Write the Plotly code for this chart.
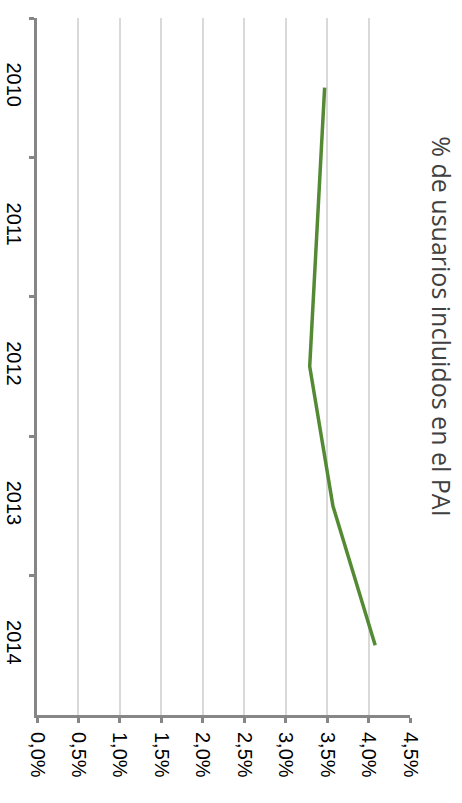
import plotly.graph_objects as go

# Share of users included in the PAI, by year
years = ["2010", "2011", "2012", "2013", "2014"]
share = [0.0347, 0.0338, 0.0329, 0.0357, 0.0408]
x_ticks = [0.0, 0.005, 0.01, 0.015, 0.02, 0.025, 0.03, 0.035, 0.04, 0.045]
title_text = "% de usuarios incluidos en el PAI"

AXIS_GREY = "#868686"
GRID_GREY = "#d9d9d9"
TICK_FONT = dict(family="Liberation Sans", size=20, color="#000000")

fig = go.Figure(
    go.Scatter(
        x=share,
        y=years,
        mode="lines",
        line=dict(color="#538a33", width=3.5),
        hoverinfo="skip",
    )
)

fig.update_layout(
    width=462,
    height=803,
    margin=dict(l=37, r=52, t=18, b=88, autoexpand=False),
    paper_bgcolor="white",
    plot_bgcolor="white",
    showlegend=False,
    separators=",.",
    font=TICK_FONT,
)

fig.update_xaxes(
    range=[0, 0.045],
    tickvals=x_ticks,
    tickformat=".1%",
    tickangle=90,
    tickfont=TICK_FONT,
    ticklabelstandoff=5,
    automargin=False,
    showgrid=True,
    gridcolor=GRID_GREY,
    gridwidth=1.5,
    zeroline=False,
    showline=True,
    linecolor=AXIS_GREY,
    linewidth=3,
    ticks="outside",
    ticklen=5,
    tickwidth=3,
    tickcolor=AXIS_GREY,
)

fig.update_yaxes(
    type="category",
    categoryorder="array",
    categoryarray=years,
    range=[4.5, -0.5],
    tickangle=90,
    tickfont=TICK_FONT,
    ticklabelstandoff=3,
    automargin=False,
    tickson="boundaries",
    showgrid=False,
    zeroline=False,
    showline=True,
    linecolor=AXIS_GREY,
    linewidth=3,
    ticks="outside",
    ticklen=5,
    tickwidth=3,
    tickcolor=AXIS_GREY,
)

fig.add_annotation(
    text=title_text,
    textangle=90,
    xref="paper",
    yref="paper",
    x=1.085,
    y=0.558,
    xanchor="center",
    yanchor="middle",
    showarrow=False,
    font=dict(family="Open Sans", size=25, color="#404040"),
)

fig.write_html("out.html")
